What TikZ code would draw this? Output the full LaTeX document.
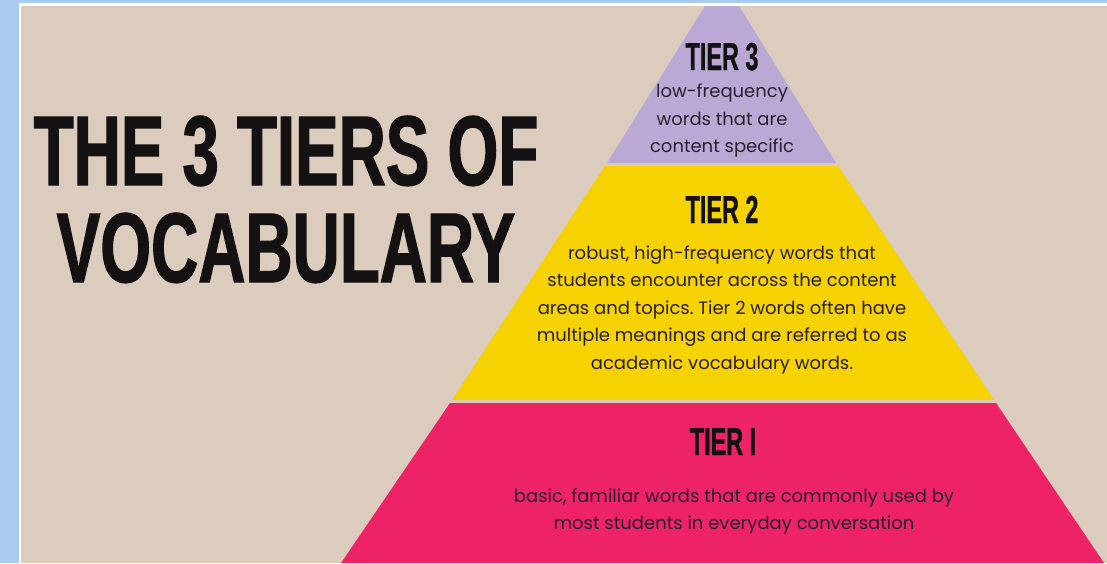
\documentclass[tikz,border=0pt]{standalone}
\usepackage{fontspec}
\usetikzlibrary{positioning}
\newfontfamily\postfont[FakeStretch=0.66,BoldFeatures={FakeBold=1.3}]{Liberation Sans}
\newfontfamily\tallfont[FakeStretch=0.6,BoldFeatures={FakeBold=0.8}]{Liberation Sans}
\newfontfamily\roundfont{Poppins}
\definecolor{framesky}{HTML}{A9CCEE}
\definecolor{paper}{HTML}{DBCCBD}
\definecolor{lilac}{HTML}{BBA9D5}
\definecolor{lemon}{HTML}{F6D300}
\definecolor{rose}{HTML}{EE2266}
\definecolor{headink}{HTML}{141112}
\definecolor{bodyink}{HTML}{2A1E30}
\frenchspacing

\begin{document}
\begin{tikzpicture}[x=1pt,y=-1pt,
tierhead/.style={font=\tallfont\bfseries\fontsize{39}{39}\selectfont,text=headink,inner sep=0pt,anchor=base},
tierbody/.style={font=\roundfont\fontsize{18}{27.5}\selectfont,text=bodyink,align=center,inner sep=0pt}]
 \useasboundingbox (0,0) rectangle (1107,563);
 % frame and paper
 \fill[framesky] (0,0) rectangle (1107,563);
 \fill[white] (19,3) rectangle (1107,563);
 \fill[paper] (21,6) rectangle (1107,563);
 % the three layers of the pyramid
 \fill[lilac] (705,6) -- (739,6) -- (836,163) -- (607,163) -- cycle;
 \fill[lemon] (605,166) -- (838,166) -- (994,400) -- (452,400) -- cycle;
 \fill[rose] (450,403) -- (996,403) -- (1104,563) -- (341,563) -- cycle;
 % title
 \node[font=\postfont\bfseries\fontsize{99}{97}\selectfont,text=headink,align=center,inner sep=0pt,anchor=base] (title) at (286,282) {THE 3 TIERS OF\\VOCABULARY};
 % labels
 \node[tierhead] (t3head) at (722,70) {TIER 3};
 \node[tierbody,below=13pt of t3head] (t3body) {low-frequency\\words that are\\content specific};
 \node[tierhead] (t2head) at (722,223) {TIER 2};
 \node[tierbody,below=22pt of t2head] (t2body) {robust, high-frequency words that\\students encounter across the content\\areas and topics. Tier 2 words often have\\multiple meanings and are referred to as\\academic vocabulary words.};
 \node[tierhead] (t1head) at (723,455) {TIER I};
 \node[tierbody,below=33pt of t1head,xshift=11pt] (t1body) {basic, familiar words that are commonly used by\\most students in everyday conversation};
\end{tikzpicture}
\end{document}
